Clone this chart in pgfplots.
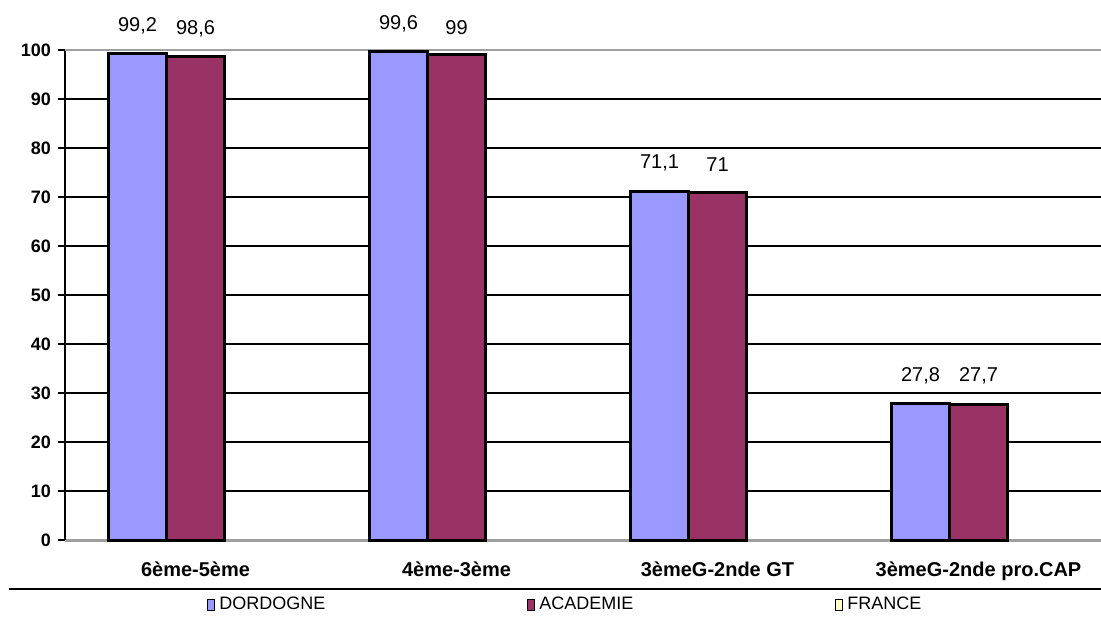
\documentclass[border=0pt]{standalone}
\usepackage{fontspec}
\setmainfont{Liberation Sans}
\usepackage{pgfplots}
\pgfplotsset{compat=1.18}
\definecolor{dordogne}{HTML}{9999FF}
\definecolor{academie}{HTML}{993366}
\definecolor{france}{HTML}{FFFFCC}
\begin{document}
\begin{tikzpicture}
\begin{axis}[
  name=ax,
  scale only axis,
  width=522pt, height=245pt,
  ybar, bar width=0.222,
  xmin=-0.5, xmax=3.5,
  ymin=0, ymax=100,
  axis x line*=bottom, axis y line*=left,
  x axis line style={-, draw=gray!75, line width=1.5pt},
  y axis line style={-, draw=black, line width=1pt},
  xtick={0,1,2,3},
  xticklabels={6ème-5ème, 4ème-3ème, 3èmeG-2nde GT, 3èmeG-2nde pro.CAP},
  x tick label style={font=\fontsize{10}{12}\selectfont\bfseries, yshift=-4pt},
  major x tick style={draw=none},
  extra x ticks={-0.5,0.5,1.5,2.5},
  extra x tick labels={},
  extra x tick style={tick align=outside, major tick length=3pt, tick style={draw=black, line width=0.6pt}},
  ytick={0,10,...,90},
  extra y ticks={100},
  extra y tick style={grid=major, major grid style={draw=gray!75, line width=1pt}},
  y tick label style={font=\fontsize{9}{11}\selectfont\bfseries},
  tick align=outside,
  major tick length=3.5pt,
  y tick style={draw=black, line width=0.6pt},
  ymajorgrids,
  major grid style={draw=black, line width=0.6pt},
  nodes near coords,
  every node near coord/.append style={font=\fontsize{10}{12}\selectfont, yshift=6pt, black},
  clip=false,
  legend columns=-1,
  legend style={draw=none, fill=none, inner sep=0pt,
    at={(rel axis cs:0,0)}, anchor=west, xshift=71pt, yshift=-32.5pt,
    font=\fontsize{9}{11}\selectfont,
    /tikz/every odd column/.append style={column sep=0pt},
    /tikz/every even column/.append style={column sep=99pt}},
  legend image code/.code={\draw[#1, draw=black, line width=0.5pt] (0pt,-2.6pt) rectangle (3.5pt,2.6pt);},
  /pgf/number format/use comma,
  /pgf/number format/fixed,
  /pgf/number format/precision=1,
  /pgf/number format/assume math mode=true,
]
\addplot[fill=dordogne, draw=black, line width=1.5pt, bar shift=-0.222]
  coordinates {(0,99.2) (1,99.6) (2,71.1) (3,27.8)};
\addlegendentry{DORDOGNE}
\addplot[fill=academie, draw=black, line width=1.5pt, bar shift=0]
  coordinates {(0,98.6) (1,99) (2,71) (3,27.7)};
\addlegendentry{ACADEMIE}
\addlegendimage{fill=france, draw=black}
\addlegendentry{FRANCE}
\draw[black, line width=0.6pt] ([xshift=-28pt, yshift=-24.5pt]rel axis cs:0,0) -- ([yshift=-24.5pt]rel axis cs:1,0);
\end{axis}
\pgfresetboundingbox
\path[use as bounding box] ([xshift=-32.5pt, yshift=-38.5pt]ax.south west) rectangle ([xshift=-4pt, yshift=25pt]ax.north east);
\end{tikzpicture}
\end{document}
